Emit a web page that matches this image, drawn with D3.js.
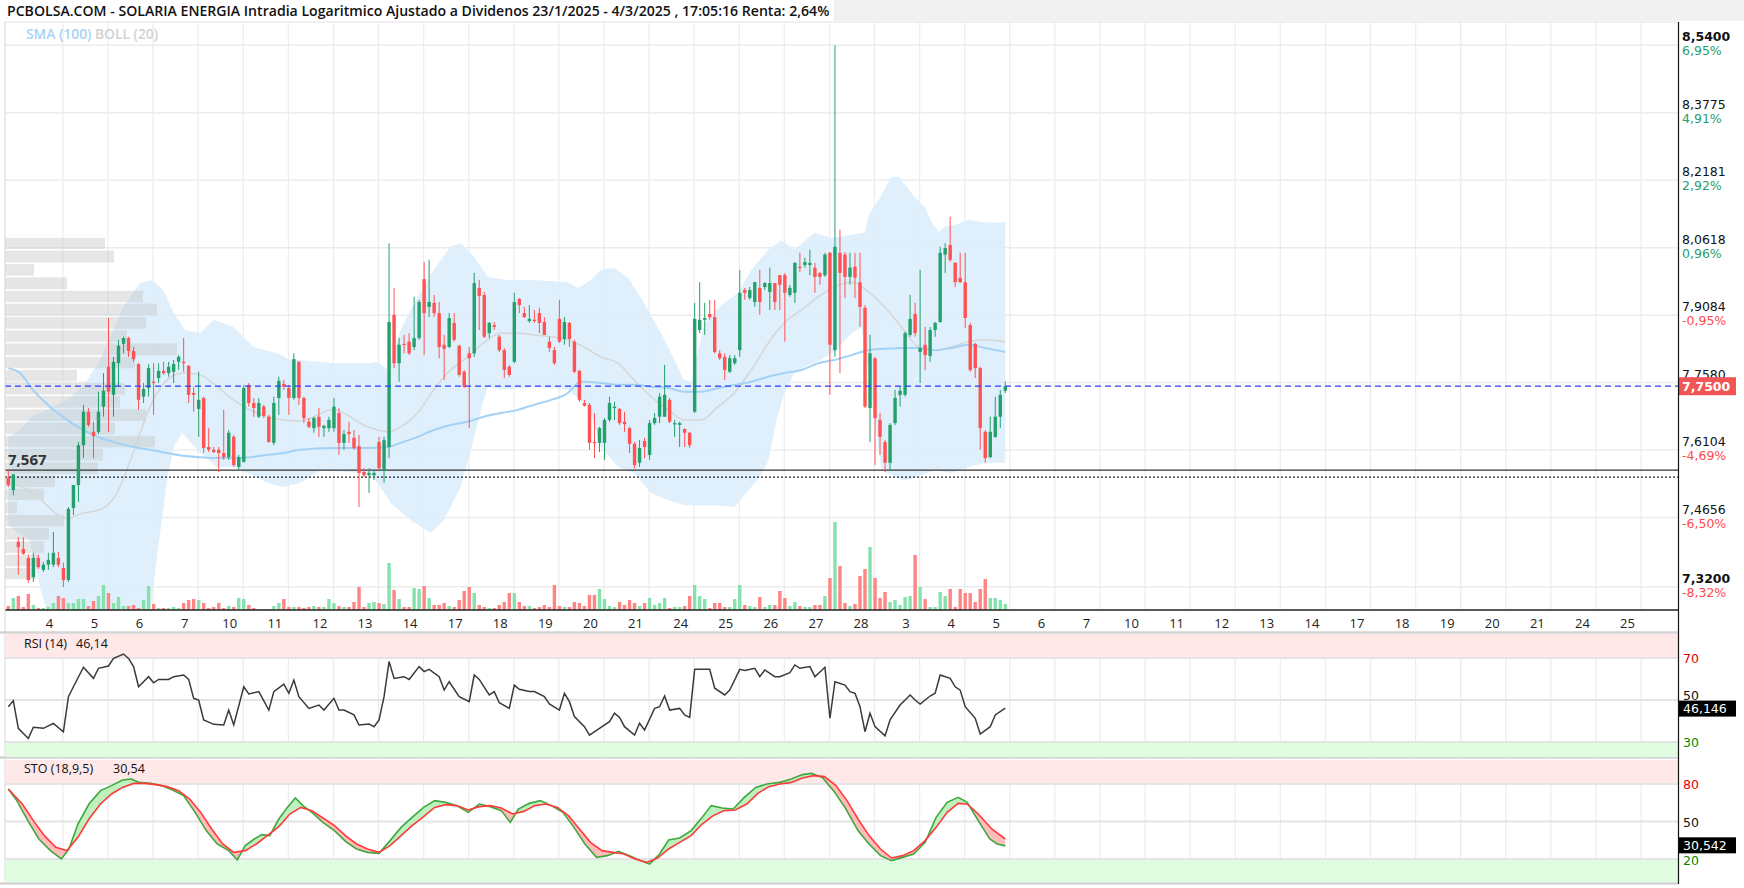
<!DOCTYPE html>
<html lang="es">
<head>
<meta charset="UTF-8">
<title>SOLARIA ENERGIA Intradia</title>
<script src="https://d3js.org/d3.v7.min.js"></script>
<style>
  body { margin: 0; background: #fff; font-family: "Open Sans", Arial, sans-serif; }
  svg { display: block; }
  .ax { font-family: "DejaVu Sans", Verdana, sans-serif; font-size: 12.5px; }
</style>
</head>
<body>
<div id="chart"></div>
<script>
// ---- data ----
const titleText = "PCBOLSA.COM - SOLARIA ENERGIA Intradia Logaritmico Ajustado a Dividenos 23/1/2025 - 4/3/2025 , 17:05:16 Renta: 2,64%";

// hourly candles, [open, high, low, close]
const ohlc = [
[7.550,7.567,7.531,7.535],[7.524,7.558,7.513,7.558],[7.414,7.424,7.345,7.403],[7.399,7.424,7.387,7.389],
[7.380,7.387,7.328,7.334],[7.340,7.391,7.330,7.380],[7.380,7.387,7.357,7.361],[7.355,7.372,7.351,7.366],
[7.366,7.391,7.355,7.376],[7.366,7.435,7.361,7.391],[7.380,7.393,7.361,7.366],[7.359,7.370,7.319,7.334],
[7.334,7.488,7.330,7.484],[7.486,7.535,7.471,7.535],[7.535,7.628,7.499,7.621],[7.621,7.709,7.593,7.694],
[7.694,7.702,7.661,7.665],[7.650,7.672,7.593,7.641],[7.650,7.738,7.645,7.694],[7.705,7.779,7.683,7.740],
[7.793,7.902,7.650,7.738],[7.731,7.815,7.683,7.804],[7.801,7.853,7.749,7.840],[7.844,7.860,7.823,7.857],
[7.857,7.860,7.815,7.828],[7.828,7.837,7.804,7.810],[7.799,7.801,7.698,7.720],[7.727,7.757,7.713,7.744],
[7.746,7.799,7.727,7.790],[7.760,7.801,7.687,7.757],[7.768,7.801,7.757,7.784],[7.784,7.804,7.775,7.779],
[7.779,7.804,7.771,7.793],[7.782,7.808,7.757,7.799],[7.804,7.819,7.786,7.815],[7.804,7.857,7.782,7.801],
[7.795,7.797,7.713,7.731],[7.735,7.749,7.694,7.731],[7.700,7.782,7.639,7.720],[7.724,7.727,7.604,7.615],
[7.617,7.658,7.606,7.611],[7.611,7.617,7.604,7.606],[7.611,7.617,7.563,7.604],[7.604,7.698,7.589,7.595],
[7.595,7.654,7.589,7.648],[7.639,7.643,7.574,7.578],[7.574,7.600,7.567,7.595],[7.585,7.753,7.583,7.746],
[7.753,7.757,7.705,7.713],[7.713,7.724,7.683,7.702],[7.683,7.724,7.680,7.713],[7.705,7.709,7.680,7.685],
[7.683,7.687,7.626,7.628],[7.626,7.727,7.621,7.713],[7.724,7.771,7.687,7.762],[7.755,7.764,7.742,7.749],
[7.746,7.753,7.687,7.724],[7.724,7.823,7.720,7.810],[7.804,7.806,7.709,7.724],[7.724,7.727,7.669,7.680],
[7.672,7.680,7.658,7.661],[7.658,7.683,7.648,7.680],[7.683,7.702,7.639,7.661],[7.658,7.665,7.639,7.663],
[7.658,7.683,7.650,7.676],[7.658,7.724,7.650,7.705],[7.691,7.702,7.600,7.626],[7.626,7.654,7.611,7.645],
[7.650,7.672,7.626,7.645],[7.637,7.654,7.611,7.615],[7.619,7.643,7.488,7.561],[7.563,7.571,7.552,7.556],
[7.556,7.571,7.518,7.561],[7.556,7.567,7.546,7.561],[7.628,7.639,7.567,7.571],[7.567,7.639,7.540,7.632],
[7.617,8.072,7.593,7.893],[7.909,7.970,7.790,7.801],[7.801,7.857,7.760,7.842],[7.844,7.864,7.823,7.842],
[7.849,7.868,7.819,7.823],[7.837,7.950,7.830,7.857],[7.857,7.943,7.853,7.938],[7.990,8.029,7.819,7.913],
[7.927,8.034,7.904,7.938],[7.936,7.954,7.904,7.913],[7.913,7.938,7.812,7.837],[7.842,7.864,7.764,7.833],
[7.837,7.913,7.835,7.902],[7.891,7.913,7.849,7.853],[7.840,7.842,7.771,7.775],[7.782,7.786,7.746,7.749],
[7.823,7.837,7.658,7.812],[7.823,8.004,7.815,7.981],[7.970,7.988,7.875,7.952],[7.954,7.961,7.857,7.860],
[7.868,7.893,7.857,7.891],[7.886,7.893,7.875,7.882],[7.860,7.864,7.826,7.830],[7.830,7.835,7.768,7.786],
[7.793,7.797,7.771,7.775],[7.804,7.959,7.801,7.938],[7.945,7.947,7.913,7.931],[7.913,7.927,7.902,7.904],
[7.895,7.931,7.891,7.900],[7.898,7.920,7.891,7.895],[7.913,7.925,7.868,7.891],[7.893,7.904,7.864,7.864],
[7.849,7.860,7.826,7.835],[7.830,7.837,7.797,7.801],[7.900,7.943,7.846,7.849],[7.855,7.904,7.842,7.893],
[7.891,7.893,7.837,7.855],[7.849,7.853,7.779,7.782],[7.784,7.786,7.716,7.720],[7.713,7.720,7.705,7.707],
[7.709,7.713,7.611,7.626],[7.628,7.691,7.593,7.626],[7.626,7.661,7.606,7.658],[7.626,7.680,7.589,7.676],
[7.676,7.727,7.672,7.713],[7.702,7.716,7.676,7.705],[7.700,7.702,7.665,7.669],[7.672,7.694,7.650,7.667],
[7.658,7.661,7.604,7.624],[7.624,7.628,7.571,7.578],[7.583,7.632,7.574,7.615],[7.630,7.637,7.593,7.617],
[7.600,7.676,7.589,7.669],[7.669,7.691,7.665,7.680],[7.683,7.735,7.669,7.727],[7.683,7.797,7.683,7.731],
[7.720,7.724,7.669,7.672],[7.667,7.676,7.639,7.669],[7.665,7.672,7.617,7.669],[7.656,7.658,7.617,7.648],
[7.648,7.650,7.615,7.621],[7.694,7.936,7.691,7.900],[7.875,7.983,7.868,7.898],[7.898,7.936,7.864,7.902],
[7.911,7.943,7.898,7.904],[7.904,7.943,7.823,7.826],[7.823,7.830,7.808,7.812],[7.815,7.823,7.764,7.786],
[7.782,7.819,7.779,7.812],[7.801,7.819,7.797,7.812],[7.830,8.011,7.815,7.959],[7.965,7.970,7.943,7.959],
[7.947,7.972,7.943,7.965],[7.938,7.983,7.927,7.983],[7.970,8.011,7.909,7.938],[7.972,7.983,7.965,7.981],
[7.961,8.016,7.920,7.981],[7.981,7.981,7.920,7.938],[7.999,7.999,7.920,7.977],[7.999,8.004,7.849,7.959],
[7.954,7.977,7.950,7.970],[7.959,8.029,7.936,8.027],[8.018,8.050,8.006,8.016],[8.022,8.039,8.016,8.029],
[8.022,8.057,7.999,8.027],[8.016,8.027,7.959,7.995],[8.004,8.006,7.977,7.995],[7.999,8.050,7.995,8.046],
[8.050,8.052,7.731,7.842],[7.830,8.540,7.815,8.064],[8.050,8.103,7.779,8.004],[8.046,8.052,7.947,7.995],
[7.995,8.050,7.977,8.016],[8.018,8.050,7.947,7.993],[7.983,8.050,7.882,7.927],[7.925,7.931,7.702,7.705],
[7.702,7.864,7.628,7.823],[7.812,7.815,7.578,7.680],[7.676,7.691,7.600,7.639],[7.628,7.632,7.563,7.583],
[7.583,7.669,7.567,7.665],[7.669,7.742,7.665,7.724],[7.731,7.749,7.705,7.740],[7.731,7.871,7.727,7.868],
[7.864,7.954,7.860,7.900],[7.911,7.936,7.860,7.868],[7.826,8.011,7.757,7.835],[7.842,7.882,7.786,7.819],
[7.817,7.882,7.804,7.875],[7.875,7.893,7.860,7.891],[7.893,8.064,7.891,8.050],[8.046,8.072,8.004,8.061],
[8.068,8.133,8.029,8.034],[8.027,8.029,7.972,7.983],[7.993,8.050,7.981,7.983],[7.983,8.050,7.880,7.902],
[7.886,7.891,7.782,7.786],[7.844,7.846,7.768,7.790],[7.790,7.793,7.611,7.658],[7.650,7.654,7.583,7.593],
[7.595,7.683,7.593,7.650],[7.639,7.727,7.637,7.683],[7.683,7.742,7.658,7.731],[7.740,7.760,7.735,7.750]
];

// volume per candle (thousands)
const volume = [
40,120,140,30,160,50,20,20,30,70,140,120,70,70,110,110,40,90,140,250,170,70,130,40,40,50,20,100,240,60,
20,20,20,30,20,70,100,110,100,70,20,30,70,20,40,30,120,110,50,20,10,10,10,40,70,110,30,30,30,
20,30,40,30,30,110,70,40,30,30,80,230,30,70,80,70,60,470,200,110,30,30,220,210,240,120,50,50,70,40,
30,100,190,230,170,50,30,20,20,50,80,170,170,80,40,40,20,30,50,30,250,40,30,30,80,70,40,150,150,210,
110,40,30,80,50,100,70,40,70,120,50,70,120,20,30,30,40,140,250,140,
110,20,70,70,30,30,110,250,50,40,30,130,30,50,50,190,120,40,80,40,30,30,50,50,140,320,880,440,70,40,
60,340,410,630,320,120,180,80,100,50,130,140,550,230,110,30,30,180,140,210,30,210,170,170,80,210,310,120,120,100,60
];

// Bollinger (20) upper / lower / middle and SMA(100), [candle index, price]
const bollUpper = [[0,7.637],[2.3,7.654],[4.9,7.685],[6.9,7.694],[11.7,7.720],[14.9,7.749],[18.3,7.808],[20.9,7.875],[22.9,7.927],[26.3,7.981],[28.7,7.988],[30.9,7.965],[33,7.913],[35.3,7.875],[38.3,7.868],[41,7.898],[44.9,7.882],[48.9,7.837],[53.7,7.823],[56.3,7.808],[58.3,7.808],[64.9,7.801],[71.7,7.801],[73.7,7.804],[75.7,7.786],[78.3,7.875],[80.3,7.920],[84.9,8.011],[88.3,8.064],[90.3,8.072],[93,8.041],[95.7,7.995],[99.7,7.988],[104.9,7.988],[111.7,7.983],[113.7,7.970],[116.3,7.988],[118.3,8.011],[120.9,8.016],[123.7,7.993],[126.9,7.936],[130.3,7.868],[132.3,7.823],[134.9,7.764],[136.3,7.760],[137.7,7.830],[139,7.891],[142.3,7.931],[145.7,7.959],[148.3,8.011],[151.7,8.057],[154.3,8.079],[156.9,8.057],[160.9,8.096],[164.3,8.084],[167.7,8.091],[170.9,8.096],[171.9,8.142],[173.7,8.172],[176.3,8.226],[177.7,8.226],[180.9,8.179],[182.9,8.156],[184.3,8.121],[185.7,8.098],[186.9,8.110],[188.9,8.114],[191.7,8.126],[194.3,8.121],[196.9,8.119],[199,8.121]];
const bollLower = [[0,7.450],[2.3,7.429],[4.3,7.418],[6.3,7.319],[8.3,7.250],[27.7,7.250],[28.5,7.285],[30.3,7.433],[31.7,7.546],[33,7.617],[34.7,7.648],[38.3,7.604],[41.7,7.574],[44.9,7.574],[47.7,7.561],[51.7,7.540],[54.9,7.531],[58.3,7.540],[62.3,7.567],[71.7,7.561],[73.7,7.540],[76.3,7.497],[80.3,7.460],[84.3,7.433],[86.9,7.460],[90.3,7.531],[93,7.639],[94.7,7.713],[95.7,7.749],[98.3,7.742],[104.9,7.749],[111.7,7.742],[115.7,7.705],[118.3,7.617],[121.7,7.574],[124.9,7.561],[128.3,7.518],[131.7,7.503],[134.9,7.492],[138.3,7.492],[141.7,7.492],[144.9,7.488],[148.3,7.531],[150,7.552],[151.7,7.587],[153.3,7.674],[154.9,7.735],[156.9,7.779],[158.3,7.790],[161.7,7.806],[164.9,7.826],[168.3,7.868],[170.3,7.882],[171.7,7.786],[174.3,7.567],[178.3,7.546],[179.7,7.546],[184.9,7.567],[188.3,7.561],[191.7,7.574],[194.9,7.583],[199,7.583]];
const bollMid = [[0,7.546],[4.9,7.518],[11.7,7.464],[14.9,7.475],[18.3,7.482],[21.7,7.518],[24.9,7.604],[28.3,7.705],[31.7,7.764],[34.9,7.779],[38.3,7.775],[41.7,7.749],[44.9,7.720],[48.3,7.698],[51.7,7.683],[54.9,7.676],[58.3,7.674],[64.9,7.698],[71.7,7.661],[75.7,7.650],[78.3,7.661],[81.7,7.691],[84.9,7.742],[88.3,7.786],[91.7,7.815],[94.9,7.846],[98.3,7.868],[101.7,7.868],[104.9,7.864],[108.3,7.860],[111.7,7.853],[114.9,7.837],[118.3,7.815],[121.7,7.801],[124.9,7.764],[128.3,7.727],[131.7,7.698],[134.9,7.676],[138.3,7.676],[141.7,7.705],[144.9,7.735],[148.3,7.786],[151.7,7.846],[154.9,7.891],[158.3,7.920],[161.7,7.950],[164.9,7.972],[168.3,7.983],[171.7,7.961],[174.9,7.927],[178.3,7.882],[181.7,7.837],[184.9,7.830],[188.3,7.837],[191.7,7.849],[194.9,7.853],[199,7.849]];
const sma100 = [[0,7.790],[2.3,7.779],[4.9,7.742],[8.3,7.705],[11.7,7.676],[14.9,7.654],[18.3,7.637],[21.7,7.626],[24.9,7.617],[28.3,7.611],[31.7,7.604],[34.9,7.598],[38.3,7.595],[41.7,7.593],[44.9,7.593],[48.3,7.595],[51.7,7.600],[54.9,7.604],[58.3,7.611],[64.9,7.615],[71.7,7.615],[75.7,7.617],[78.3,7.626],[81.7,7.639],[84.9,7.654],[88.3,7.665],[91.7,7.672],[94.9,7.683],[98.3,7.691],[101.7,7.698],[104.9,7.709],[108.3,7.720],[111.7,7.735],[113.7,7.757],[114.9,7.760],[118.3,7.757],[121.7,7.753],[124.9,7.753],[128.3,7.749],[131.7,7.746],[134.9,7.738],[138.3,7.738],[141.7,7.746],[144.9,7.753],[148.3,7.760],[151.7,7.771],[154.9,7.779],[158.3,7.786],[161.7,7.801],[164.9,7.808],[168.3,7.819],[171.7,7.830],[174.9,7.833],[178.3,7.835],[181.7,7.835],[184.9,7.830],[188.3,7.835],[191.7,7.842],[194.9,7.835],[199,7.826]];

// volume profile: bin edges (price) and volume per bin
const profileEdges = [8.086,8.057,8.026,7.996,7.965,7.936,7.906,7.876,7.847,7.817,7.788,7.759,7.730,7.701,7.672,7.643,7.615,7.586,7.557,7.529,7.501,7.473,7.445,7.417,7.389,7.361,7.334];
const profileVol = [500,545,145,310,690,760,705,610,860,650,360,600,575,705,550,750,490,465,250,195,60,295,220,195,165,155];

// right axis
const priceTicks = [8.54,8.3775,8.2181,8.0618,7.9084,7.758,7.6104,7.4656,7.32];
const priceLabels = ["8,5400","8,3775","8,2181","8,0618","7,9084","7,7580","7,6104","7,4656","7,3200"];
const pctLabels = ["6,95%","4,91%","2,92%","0,96%","-0,95%","","-4,69%","-6,50%","-8,32%"];
const lastPrice = 7.75;
const refPrice = 7.567, refPrice2 = 7.552;

// day labels on the time axis (9 hourly bars a day)
const dayLabels = ["4","5","6","7","10","11","12","13","14","17","18","19","20","21","24","25","26","27","28",
  "3","4","5","6","7","10","11","12","13","14","17","18","19","20","21","24","25"];
const barsPerDay = 9, firstLabelBar = 8.2, firstGridBar = 10.9;

// RSI (14), [candle index, value]
const rsi = [[0,46.8],[1,49.7],[2,36.5],[4,31.7],[5,37.0],[7,36.5],[9,38.9],[11,34.9],[12,51.6],[13,56.3],[15,65.6],[17,60.3],[18,65.1],[20,66.2],[21,69.8],[23,71.9],[24,69.8],[25,65.9],[26,56.3],[28,61.1],[29,58.2],[30,59.8],[32,59.8],[33,61.1],[35,61.9],[36,59.8],[37,50.8],[38,50.0],[39,40.5],[41,38.4],[43,38.1],[44,45.2],[45,38.1],[47,56.3],[48,52.9],[50,54.0],[52,45.2],[53,54.0],[55,57.6],[56,53.2],[57,59.5],[58,51.6],[60,46.0],[62,47.6],[63,45.2],[65,50.8],[66,45.2],[67,45.2],[69,42.9],[70,38.1],[72,38.6],[73,37.3],[74,40.5],[75,51.6],[76,68.3],[77,60.3],[79,61.1],[80,59.8],[82,65.9],[83,63.5],[84,64.6],[86,61.1],[87,54.7],[88,58.7],[90,51.6],[92,49.2],[93,61.9],[94,59.8],[96,52.4],[97,54.0],[98,48.7],[100,46.0],[101,57.1],[102,55.1],[104,54.0],[105,54.0],[107,51.6],[108,48.1],[110,45.2],[111,53.2],[112,49.2],[113,42.1],[115,37.3],[116,33.3],[118,36.5],[120,39.7],[121,43.7],[122,41.7],[123,37.3],[125,33.3],[126,38.9],[127,35.7],[129,46.0],[130,46.8],[131,51.9],[132,45.2],[134,46.0],[135,42.9],[136,41.7],[137,64.6],[138,64.6],[140,64.6],[141,55.6],[143,52.4],[144,54.7],[146,64.6],[147,64.0],[149,65.1],[150,61.1],[151,64.3],[153,61.1],[154,61.1],[156,63.0],[157,66.7],[158,65.1],[160,65.9],[161,61.1],[163,65.6],[164,41.3],[165,58.7],[167,57.1],[168,54.0],[169,53.2],[170,46.8],[171,34.9],[172,43.7],[173,37.3],[175,32.9],[176,40.5],[178,47.6],[180,52.4],[181,50.0],[182,48.1],[184,51.9],[185,53.2],[186,61.9],[188,60.3],[189,56.3],[190,54.7],[191,46.8],[193,41.3],[194,33.8],[196,37.3],[197,42.9],[199,46.1]];
const rsiLast = "46,146";

// Stochastic (18,9,5): %K (green) and %D (red)
const stoK = [[0,76],[1.7,66.7],[3.9,50.7],[6.1,36],[8.4,26.7],[10.6,20],[12.1,28],[13.9,48],[16.1,64],[18.4,74.7],[20.6,78.7],[22.8,83.2],[24.6,84],[26.1,81.3],[28.4,80.5],[30.6,78.7],[32.8,75.2],[35,70.7],[37.3,57.3],[39.5,42.7],[41.7,32],[44,26.7],[45.7,19.2],[47.3,30.7],[49.1,36],[50.6,39.5],[52.2,38.7],[54,52],[55.7,61.3],[57.3,68.8],[58.8,62.7],[60.6,57.3],[62.8,49.3],[65.1,42.7],[67.3,34.1],[69.5,28],[71.7,25.3],[74,24.5],[76.2,34.7],[78.4,45.3],[80.6,53.3],[82.9,61.3],[85.1,66.7],[87.3,65.3],[89.5,62.7],[91.8,57.3],[94,64],[96.2,61.9],[98.4,58.7],[100.2,49.3],[101.8,60],[104,64.5],[106.2,66.7],[108.4,62.7],[110.7,57.3],[112.9,45.3],[115.1,32],[117.4,21.3],[119.6,22.7],[121.8,26.1],[124,22.7],[126.2,18.7],[128,16],[130,24],[131.8,35.2],[134,36.8],[136.3,42.7],[138.5,53.3],[140.3,62.7],[142.5,60.8],[144.7,60],[146.9,69.3],[149.2,77.3],[151.4,80],[154,81.3],[156.3,84],[158.5,87.5],[160.3,88.5],[162.5,85.3],[164.7,74.7],[167,61.3],[169.6,42.7],[171.8,32],[174.1,22.7],[176.3,18.7],[178.5,21.3],[180.7,24],[183,33.3],[185.2,53.3],[187.4,65.3],[189.6,69.3],[191.4,65.3],[193.6,50.7],[195.9,36],[197.4,32],[199,30.5]];
const stoD = [[0,76],[2.8,64],[5,50.7],[7.2,38.7],[9.5,29.3],[11.7,26.7],[13.9,37.3],[16.1,52],[18.4,64],[20.6,72],[22.8,77.3],[25,80.5],[27.3,80.5],[29.5,79.5],[31.7,77.9],[34,74.7],[36.2,68],[38.4,57.3],[40.6,44],[42.8,32],[45,25.3],[47.3,26.7],[49.5,32],[51.7,38.7],[54,45.9],[56.2,56],[58.4,61.3],[60.6,58.7],[62.8,52.8],[65.1,46.7],[67.3,38.7],[69.5,32],[71.7,28],[74,25.3],[76.2,30.7],[78.4,38.7],[80.6,46.7],[82.9,53.9],[85.1,61.3],[87.3,63.5],[89.5,62.7],[91.8,59.2],[94,61.9],[96.2,62.7],[98.4,60.8],[100.7,56],[102.9,58.1],[105.1,62.7],[107.3,64],[109.6,61.3],[111.8,54.7],[114,44],[116.2,33.3],[118.5,26.7],[120.7,25.3],[122.9,24],[125.1,20],[127.4,17.3],[129.6,20.8],[131.8,28],[134,33.3],[136.3,38.7],[138.5,48],[140.7,54.7],[142.9,58.7],[145.1,59.2],[147.4,64],[149.6,72.5],[151.8,77.9],[154,80],[156.3,81.3],[158.5,84.8],[160.7,86.7],[162.9,85.9],[165.2,78.7],[167.4,66.7],[169.6,52],[171.8,38.7],[174.1,28],[176.3,20.8],[178.5,22.7],[180.7,26.7],[183,34.7],[185.2,45.3],[187.4,57.3],[189.6,64.5],[191.4,64],[193.6,56],[196.3,44],[199,36]];
const stoLast = "30,542";

// ---- layout ----
const W = 1744, H = 888;
const plot = { left: 5, right: 1678, top: 22, bottom: 610 };
const rsiBox = { top: 634, bottom: 757 };
const stoBox = { top: 759, bottom: 882 };

const svg = d3.select("#chart").append("svg").attr("width", W).attr("height", H);
const defs = svg.append("defs");

const x = d3.scaleLinear().domain([0, 199]).range([8.3, 8.3 + 199 * 5.01]);
const y = d3.scaleLog().domain([7.32, 8.54]).range([586.7, 45.3]);
const yVol = d3.scaleLinear().domain([0, 880]).range([plot.bottom, plot.bottom - 88]);
const xProf = d3.scaleLinear().domain([0, 860]).range([plot.left, plot.left + 172]);
const yRsi = d3.scaleLinear().domain([30, 70]).range([742, 658]);
const ySto = d3.scaleLinear().domain([20, 80]).range([859, 784]);

const green = "#23a06b", red = "#ff5252";
const volGreen = "#86e2ad", volRed = "#ff8585";

// title strip
svg.append("rect").attr("x", 0).attr("y", 0).attr("width", W).attr("height", 21).attr("fill", "#f1f1f1");
svg.append("rect").attr("x", 0).attr("y", 0).attr("width", 834).attr("height", 21).attr("fill", "#fff");
svg.append("text").attr("x", 7).attr("y", 16).attr("font-size", 14.1).attr("font-weight", 600)
  .attr("fill", "#111").text(titleText);

// clip for the price area
defs.append("clipPath").attr("id", "clipMain").append("rect")
  .attr("x", plot.left).attr("y", plot.top).attr("width", plot.right - plot.left).attr("height", plot.bottom - plot.top);

const gridColor = "#ececec";
const dayIdx = dayLabels.map((d, k) => k);

// vertical grid in each panel
[[plot.top, plot.bottom], [rsiBox.top, rsiBox.bottom], [stoBox.top, stoBox.bottom]].forEach(([t, b]) => {
  svg.append("g").selectAll("line").data(dayIdx).join("line")
    .attr("x1", k => x(firstGridBar + barsPerDay * k)).attr("x2", k => x(firstGridBar + barsPerDay * k))
    .attr("y1", t).attr("y2", b).attr("stroke", gridColor).attr("stroke-width", 1.2);
});

// horizontal price grid
svg.append("g").selectAll("line").data(priceTicks).join("line")
  .attr("x1", plot.left).attr("x2", plot.right).attr("y1", d => y(d)).attr("y2", d => y(d))
  .attr("stroke", gridColor).attr("stroke-width", 1.5);

const main = svg.append("g").attr("clip-path", "url(#clipMain)");

// bollinger fill
const bandPts = bollUpper.map(d => [x(d[0]), y(d[1])])
  .concat(bollLower.slice().reverse().map(d => [x(d[0]), y(d[1])]));
main.append("path").attr("d", d3.line()(bandPts) + "Z").attr("fill", "#dcedfb").attr("opacity", 0.9);

// volume profile
main.append("g").selectAll("rect").data(profileVol).join("rect")
  .attr("x", plot.left)
  .attr("y", (v, k) => y(profileEdges[k]) + 0.8)
  .attr("width", v => xProf(v) - plot.left)
  .attr("height", (v, k) => y(profileEdges[k + 1]) - y(profileEdges[k]) - 1.6)
  .attr("fill", "#c4c4c4").attr("opacity", 0.42);

// middle band and SMA
const pLine = d3.line().x(d => x(d[0])).y(d => y(d[1])).curve(d3.curveMonotoneX);
main.append("path").attr("d", pLine(bollMid)).attr("fill", "none").attr("stroke", "#d6d6d6").attr("stroke-width", 1.5);
main.append("path").attr("d", pLine(sma100)).attr("fill", "none").attr("stroke", "#a3d2f6").attr("stroke-width", 2);

// volume bars
main.append("g").selectAll("rect").data(volume).join("rect")
  .attr("x", (v, i) => x(i) - 1.7).attr("width", 3.4)
  .attr("y", v => yVol(v)).attr("height", v => plot.bottom - yVol(v))
  .attr("fill", (v, i) => ohlc[i][3] >= ohlc[i][0] ? volGreen : volRed);

// reference lines
main.append("line").attr("x1", plot.left).attr("x2", plot.right).attr("y1", y(refPrice)).attr("y2", y(refPrice))
  .attr("stroke", "#333").attr("stroke-width", 1.3);
main.append("line").attr("x1", plot.left).attr("x2", plot.right).attr("y1", y(refPrice2)).attr("y2", y(refPrice2))
  .attr("stroke", "#222").attr("stroke-width", 1.2).attr("stroke-dasharray", "2,2");
svg.append("text").attr("x", 8).attr("y", y(refPrice) - 5).attr("font-size", 15).attr("font-weight", 700)
  .attr("fill", "#333").text("7,567");

// candles
const cg = main.append("g").selectAll("g").data(ohlc).join("g");
cg.append("line")
  .attr("x1", (d, i) => x(i)).attr("x2", (d, i) => x(i))
  .attr("y1", d => y(d[1])).attr("y2", d => y(d[2]))
  .attr("stroke", d => d[3] >= d[0] ? green : red).attr("stroke-width", 1);
cg.append("rect")
  .attr("x", (d, i) => x(i) - 1.7).attr("width", 3.4)
  .attr("y", d => y(Math.max(d[0], d[3])))
  .attr("height", d => Math.max(1.2, Math.abs(y(d[0]) - y(d[3]))))
  .attr("fill", d => d[3] >= d[0] ? green : red);

// last price dashed line
main.append("line").attr("x1", plot.left).attr("x2", plot.right).attr("y1", y(lastPrice)).attr("y2", y(lastPrice))
  .attr("stroke", "#2f3dff").attr("stroke-width", 1.3).attr("stroke-dasharray", "6,4");

// legend
const lg = svg.append("text").attr("x", 26).attr("y", 39).attr("font-size", 13.8).attr("font-weight", 600);
lg.append("tspan").attr("fill", "#a6d3f5").text("SMA (100) ");
lg.append("tspan").attr("fill", "#d2d2d2").text("BOLL (20)");

// axes frame
svg.append("line").attr("x1", plot.left).attr("x2", plot.right).attr("y1", plot.bottom).attr("y2", plot.bottom)
  .attr("stroke", "#222").attr("stroke-width", 1.5);
svg.append("line").attr("x1", plot.left).attr("x2", plot.left).attr("y1", plot.top).attr("y2", stoBox.bottom)
  .attr("stroke", "#d6d6d6").attr("stroke-width", 1);
svg.append("line").attr("x1", plot.left).attr("x2", plot.right).attr("y1", plot.top).attr("y2", plot.top)
  .attr("stroke", "#e2e2e2").attr("stroke-width", 1);
[rsiBox.top - 1.5, rsiBox.bottom + 0.5, stoBox.bottom + 1.5].forEach(yy => {
  svg.append("line").attr("x1", 0).attr("x2", plot.right).attr("y1", yy).attr("y2", yy)
    .attr("stroke", "#d4d4d4").attr("stroke-width", 2.5);
});

// time axis labels
svg.append("g").selectAll("text").data(dayLabels).join("text")
  .attr("x", (d, k) => x(firstLabelBar + barsPerDay * k)).attr("y", 628)
  .attr("text-anchor", "middle").attr("font-size", 13).attr("fill", "#222").text(d => d);

// right price axis
const ax = svg.append("g").attr("class", "ax");
priceTicks.forEach((p, k) => {
  const gy = y(p);
  const edge = k === 0 || k === priceTicks.length - 1;
  ax.append("text").attr("x", 1682).attr("y", gy - 4).attr("fill", "#111")
    .attr("font-weight", edge ? "bold" : "normal").text(priceLabels[k]);
  ax.append("text").attr("x", 1682).attr("y", gy + 10)
    .attr("fill", pctLabels[k].startsWith("-") ? "#ff4a4a" : "#2a9d6c").text(pctLabels[k]);
});
ax.append("rect").attr("x", 1679).attr("y", y(lastPrice) - 9).attr("width", 57).attr("height", 18).attr("fill", "#f25555");
ax.append("text").attr("x", 1682).attr("y", y(lastPrice) + 5).attr("fill", "#fff").attr("font-weight", "bold").text("7,7500");

// ---- RSI panel ----
svg.append("rect").attr("x", plot.left).attr("y", rsiBox.top).attr("width", plot.right - plot.left)
  .attr("height", yRsi(70) - rsiBox.top).attr("fill", "#ffe8e8");
svg.append("rect").attr("x", plot.left).attr("y", yRsi(30)).attr("width", plot.right - plot.left)
  .attr("height", rsiBox.bottom - yRsi(30)).attr("fill", "#e0fce0");
[70, 50, 30].forEach(v => {
  svg.append("line").attr("x1", plot.left).attr("x2", plot.right).attr("y1", yRsi(v)).attr("y2", yRsi(v))
    .attr("stroke", "#e4e4e4").attr("stroke-width", 2);
});
svg.append("path").attr("d", d3.line().x(d => x(d[0])).y(d => yRsi(d[1]))(rsi))
  .attr("fill", "none").attr("stroke", "#3a3a3a").attr("stroke-width", 1.5);
svg.append("text").attr("x", 24).attr("y", 648).attr("font-size", 12.5).attr("fill", "#111").text("RSI (14)");
svg.append("text").attr("x", 76).attr("y", 648).attr("font-size", 12.5).attr("fill", "#111").text("46,14");
const rax = svg.append("g").attr("class", "ax");
rax.append("text").attr("x", 1683).attr("y", yRsi(70) + 5).attr("fill", "#e00000").text("70");
rax.append("text").attr("x", 1683).attr("y", yRsi(50) - 0.5).attr("fill", "#111").text("50");
rax.append("text").attr("x", 1683).attr("y", yRsi(30) + 5).attr("fill", "#008800").text("30");
rax.append("rect").attr("x", 1679).attr("y", yRsi(46.146) - 7.5).attr("width", 57).attr("height", 16).attr("fill", "#000");
rax.append("text").attr("x", 1683).attr("y", yRsi(46.146) + 5).attr("fill", "#fff").text(rsiLast);

// ---- STO panel ----
svg.append("rect").attr("x", plot.left).attr("y", stoBox.top + 1).attr("width", plot.right - plot.left)
  .attr("height", ySto(80) - stoBox.top - 1).attr("fill", "#ffe8e8");
svg.append("rect").attr("x", plot.left).attr("y", ySto(20)).attr("width", plot.right - plot.left)
  .attr("height", stoBox.bottom - ySto(20)).attr("fill", "#e0fce0");
[80, 50, 20].forEach(v => {
  svg.append("line").attr("x1", plot.left).attr("x2", plot.right).attr("y1", ySto(v)).attr("y2", ySto(v))
    .attr("stroke", "#e4e4e4").attr("stroke-width", 2);
});
const kPts = stoK.map(d => [x(d[0]), ySto(d[1])]);
const dPts = stoD.map(d => [x(d[0]), ySto(d[1])]);
const between = d3.line()(kPts.concat(dPts.slice().reverse())) + "Z";
const dFirst = dPts[0], dLast = dPts[dPts.length - 1];
defs.append("clipPath").attr("id", "aboveD").append("path")
  .attr("d", d3.line()(dPts) + `L${dLast[0]},${stoBox.top}L${dFirst[0]},${stoBox.top}Z`);
defs.append("clipPath").attr("id", "belowD").append("path")
  .attr("d", d3.line()(dPts) + `L${dLast[0]},${stoBox.bottom}L${dFirst[0]},${stoBox.bottom}Z`);
svg.append("path").attr("d", between).attr("fill", "#bff0bf").attr("clip-path", "url(#aboveD)");
svg.append("path").attr("d", between).attr("fill", "#ffbcbc").attr("clip-path", "url(#belowD)");
svg.append("path").attr("d", d3.line()(kPts)).attr("fill", "none").attr("stroke", "#3ea83e").attr("stroke-width", 1.6);
svg.append("path").attr("d", d3.line()(dPts)).attr("fill", "none").attr("stroke", "#ff3a3a").attr("stroke-width", 1.6);
svg.append("text").attr("x", 24).attr("y", 773).attr("font-size", 12.5).attr("fill", "#111").text("STO (18,9,5)");
svg.append("text").attr("x", 113).attr("y", 773).attr("font-size", 12.5).attr("fill", "#111").text("30,54");
const sax = svg.append("g").attr("class", "ax");
sax.append("text").attr("x", 1683).attr("y", ySto(80) + 5).attr("fill", "#e00000").text("80");
sax.append("text").attr("x", 1683).attr("y", ySto(50) + 5).attr("fill", "#111").text("50");
sax.append("text").attr("x", 1683).attr("y", ySto(20) + 6).attr("fill", "#008800").text("20");
sax.append("rect").attr("x", 1679).attr("y", ySto(30.542) - 8.5).attr("width", 57).attr("height", 16).attr("fill", "#000");
sax.append("text").attr("x", 1683).attr("y", ySto(30.542) + 4.5).attr("fill", "#fff").text(stoLast);

// right axis line
svg.append("line").attr("x1", plot.right + 0.5).attr("x2", plot.right + 0.5).attr("y1", plot.top).attr("y2", stoBox.bottom + 2)
  .attr("stroke", "#111").attr("stroke-width", 1.2);
</script>
</body>
</html>
